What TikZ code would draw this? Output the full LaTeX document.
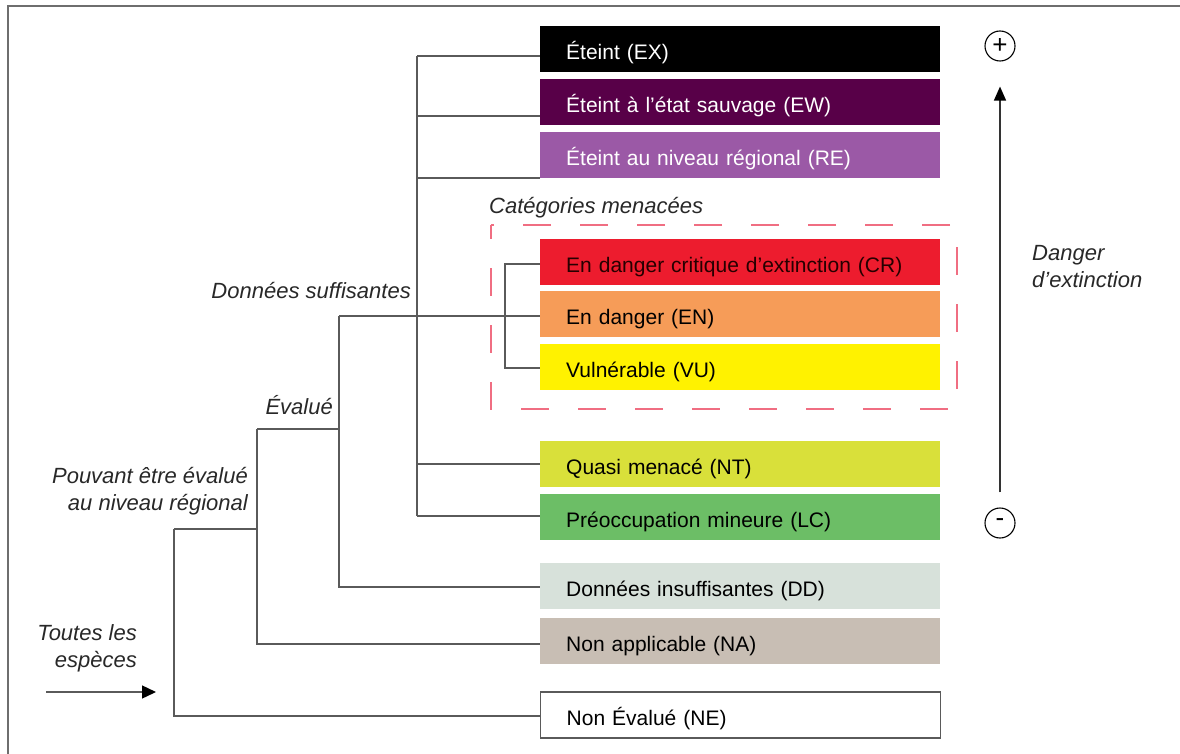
\documentclass[tikz,border=0pt]{standalone}
\usepackage{fontspec}
\setmainfont{Liberation Sans}
\usetikzlibrary{arrows.meta}
\definecolor{cEW}{RGB}{88,0,72}
\definecolor{cRE}{RGB}{155,89,166}
\definecolor{cCR}{RGB}{237,28,46}
\definecolor{cEN}{RGB}{246,156,88}
\definecolor{cVU}{RGB}{255,242,0}
\definecolor{cNT}{RGB}{217,224,58}
\definecolor{cLC}{RGB}{108,190,102}
\definecolor{cDD}{RGB}{215,225,218}
\definecolor{cNA}{RGB}{200,190,180}
\definecolor{linegray}{RGB}{90,90,90}
\definecolor{framegray}{RGB}{110,110,110}
\definecolor{labgray}{RGB}{40,40,40}
\definecolor{dashpink}{RGB}{240,110,130}
\begin{document}
\begin{tikzpicture}[x=1pt,y=-1pt,
  cat/.style={anchor=west, minimum height=46pt, text width=348pt, text height=21pt, text depth=0pt, inner xsep=26pt, inner ysep=0pt, align=left, font=\fontsize{21}{25}\selectfont},
  link/.style={draw=linegray, line width=1.4pt},
  lab/.style={font=\fontsize{22}{27}\selectfont\itshape, text=labgray, inner sep=0pt},
  sign/.style={circle, draw=black, line width=1.1pt, minimum size=30pt, inner sep=0pt, font=\fontsize{26}{26}\selectfont}
]
\useasboundingbox (0,0) rectangle (1180,754);
% frame
\coordinate (frBL) at (8,754);
\coordinate (frTL) at (8,6);
\coordinate (frTR) at (1180,6);
\draw[draw=framegray, line width=2pt] (frBL) -- (frTL) -- (frTR);

% category boxes
\node[cat, fill=black, text=white] (ex) at (540,49) {Éteint (EX)};
\node[cat, fill=cEW, text=white] (ew) at (540,102) {Éteint à l’état sauvage (EW)};
\node[cat, fill=cRE, text=white] (re) at (540,155) {Éteint au niveau régional (RE)};
\node[cat, fill=cCR, text=black!85!red] (cr) at (540,262) {En danger critique d’extinction (CR)};
\node[cat, fill=cEN, text=black] (en) at (540,314) {En danger (EN)};
\node[cat, fill=cVU, text=black] (vu) at (540,367) {Vulnérable (VU)};
\node[cat, fill=cNT, text=black] (nt) at (540,464) {Quasi menacé (NT)};
\node[cat, fill=cLC, text=black] (lc) at (540,517) {Préoccupation mineure (LC)};
\node[cat, fill=cDD, text=black] (dd) at (540,586) {Données insuffisantes (DD)};
\node[cat, fill=cNA, text=black] (na) at (540,641) {Non applicable (NA)};
\node[cat, fill=white, draw=linegray, line width=1.4pt, text=black] (ne) at (540,715) {Non Évalué (NE)};

% threatened dashed frame
\draw[draw=dashpink, line width=2pt, dash pattern=on 28pt off 29pt, dash phase=14pt] (491,225) rectangle (957,409);

% tree coordinates
\coordinate (dsA) at (417,56);
\coordinate (dsB) at (417,116);
\coordinate (dsC) at (417,178);
\coordinate (dsD) at (417,464);
\coordinate (dsE) at (417,516);
\coordinate (evA) at (339,316);
\coordinate (evB) at (339,429);
\coordinate (evC) at (339,587);
\coordinate (brA) at (505,264);
\coordinate (brB) at (505,368);
\coordinate (pvA) at (257,429);
\coordinate (pvB) at (257,529);
\coordinate (pvC) at (257,644);
\coordinate (tsA) at (174,529);
\coordinate (tsB) at (174,716);

% connectors
\draw[link] (dsA) -- (dsE);
\draw[link] (dsA) -- (dsA -| ex.west);
\draw[link] (dsB) -- (dsB -| ew.west);
\draw[link] (dsC) -- (dsC -| re.west);
\draw[link] (dsD) -- (dsD -| nt.west);
\draw[link] (dsE) -- (dsE -| lc.west);
\draw[link] (evA) -- (evA -| en.west);
\draw[link] (brA -| cr.west) -- (brA) -- (brB) -- (brB -| vu.west);
\draw[link] (evA) -- (evC) -- (evC -| dd.west);
\draw[link] (pvA) -- (evB);
\draw[link] (pvA) -- (pvC) -- (pvC -| na.west);
\draw[link] (tsA) -- (pvB);
\draw[link] (tsA) -- (tsB) -- (tsB -| ne.west);

% entry arrow
\coordinate (arS) at (46,692);
\coordinate (arE) at (156,692);
\draw[link, -{Triangle[length=14pt,width=13pt,color=black]}] (arS) -- (arE);

% danger scale
\node[sign] (pl) at (1000,46) {+};
\node[sign] (mn) at (1000,523) {-};
\draw[draw=black!80, line width=1.4pt, -{Triangle[length=14pt,width=12pt,color=black]}, shorten <=15pt, shorten >=25pt] (mn.north) -- (pl.south);

% labels
\node[lab, anchor=east] (lds) at (411,291) {Données suffisantes};
\node[lab, anchor=east] (lev) at (333,405) {Évalué};
\node[lab, anchor=east, align=right] (lpv) at (248,491) {Pouvant être évalué\\au niveau régional};
\node[lab, anchor=east, align=right] (lts) at (137,648) {Toutes les\\espèces};
\node[lab, anchor=west] (lcm) at (489,208) {Catégories menacées};
\node[lab, anchor=west, align=left] (ldg) at (1032,267) {Danger\\d’extinction};
\end{tikzpicture}
\end{document}
